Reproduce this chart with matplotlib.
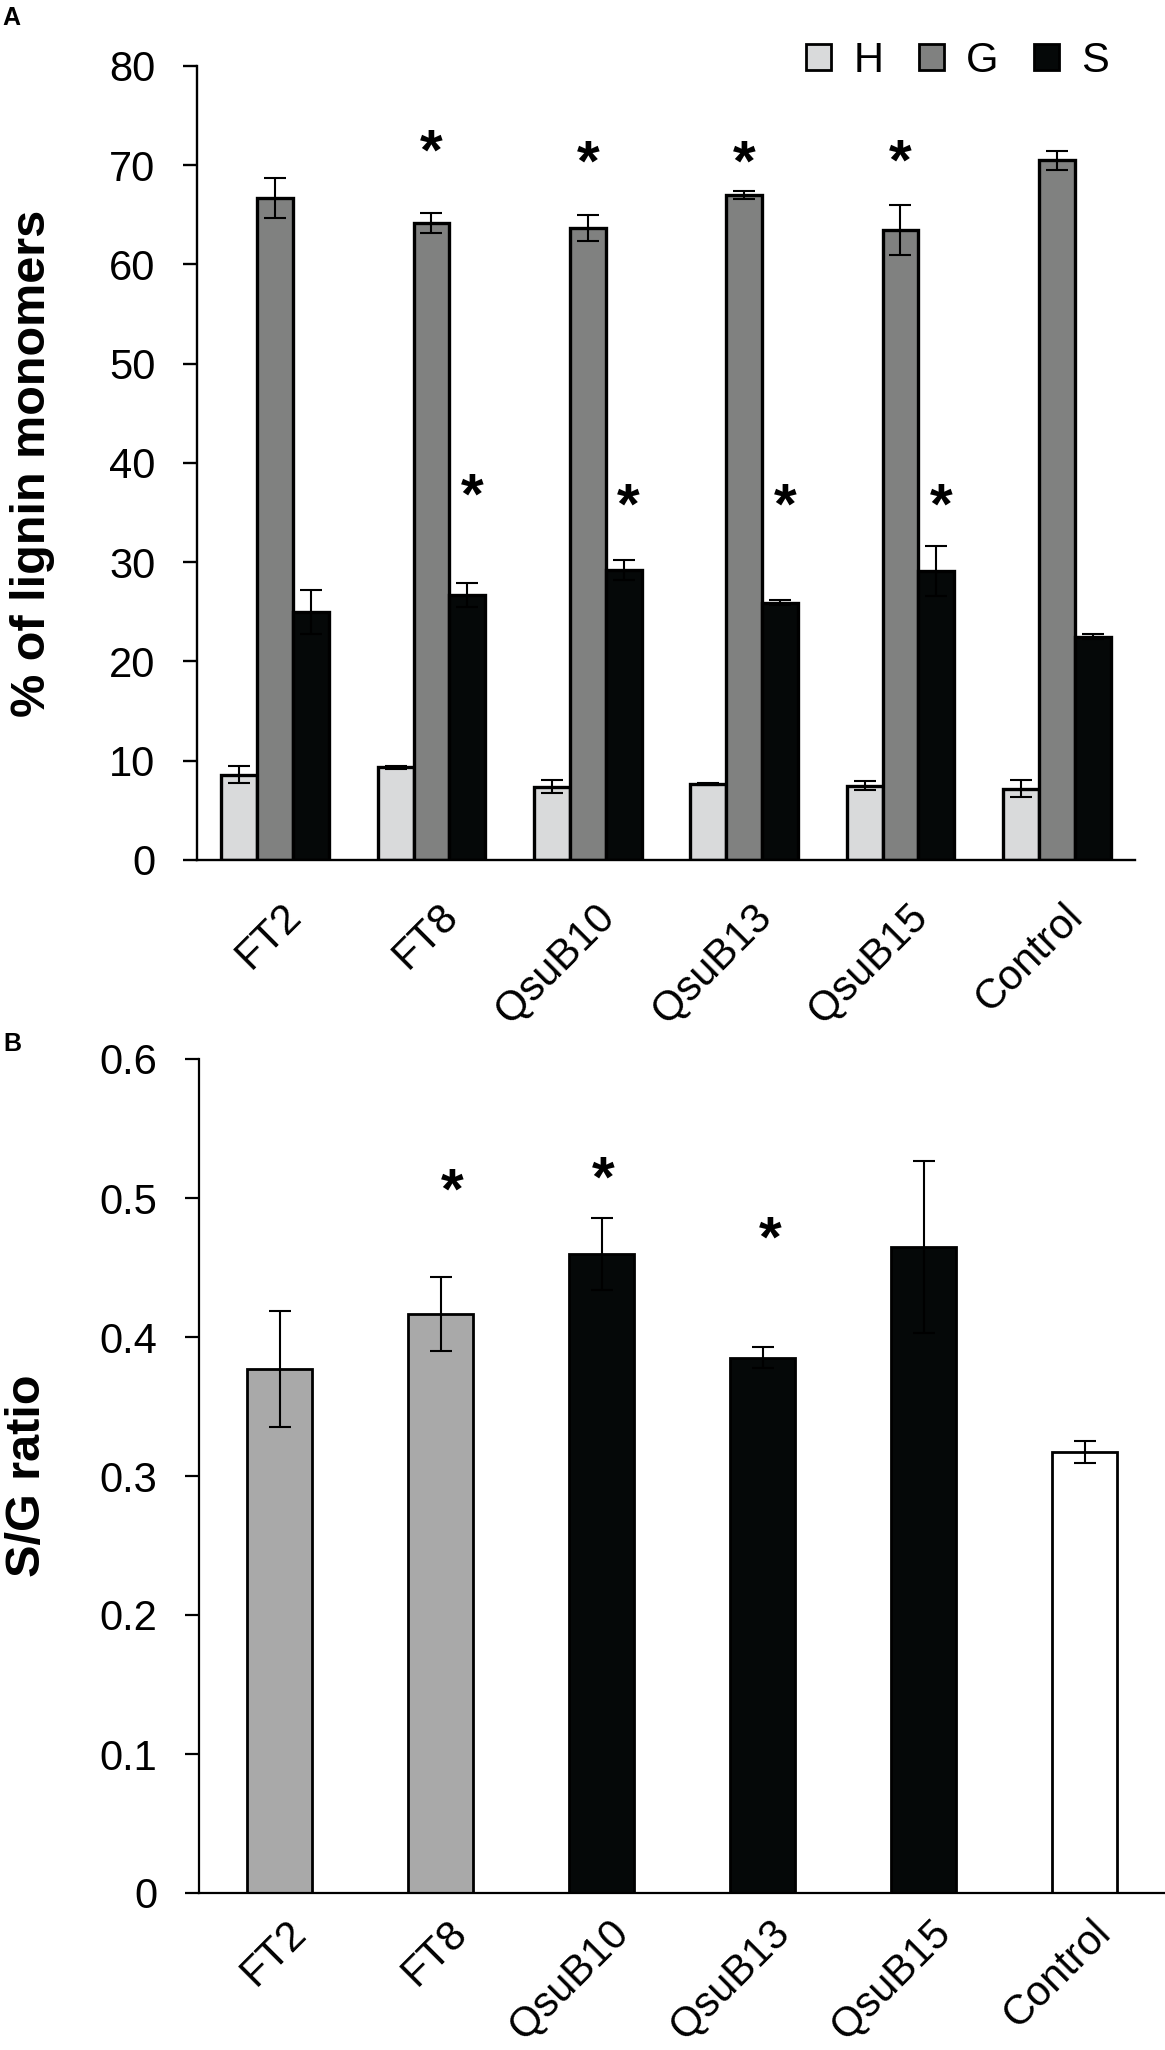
import numpy as np
import matplotlib
matplotlib.use("Agg")
import matplotlib.pyplot as plt
from matplotlib.patches import Patch
from matplotlib.transforms import ScaledTranslation

plt.rcParams['font.family'] = ['Liberation Sans', 'DejaVu Sans']

# plant lines (x categories, same in both panels)
lines = ["FT2", "FT8", "QsuB10", "QsuB13", "QsuB15", "Control"]

# Panel A: lignin monomer composition (%), mean and error
h_vals = [8.6, 9.35, 7.4, 7.65, 7.5, 7.2]
h_err = [0.85, 0.15, 0.65, 0.1, 0.45, 0.85]
g_vals = [66.7, 64.2, 63.7, 67.0, 63.5, 70.5]
g_err = [2.0, 1.0, 1.3, 0.4, 2.5, 0.95]
s_vals = [25.0, 26.7, 29.2, 25.9, 29.1, 22.5]
s_err = [2.2, 1.2, 1.0, 0.25, 2.5, 0.25]
monomers = ["H", "G", "S"]

# significance marks in panel A (line index, height)
g_star_idx = [1, 2, 3, 4]
g_star_y = [72.9, 71.8, 71.8, 71.9]
s_star_idx = [1, 2, 3, 4]
s_star_y = [38.3, 37.2, 37.2, 37.2]

# Panel B: S/G ratio
sg_vals = [0.377, 0.4166, 0.4597, 0.385, 0.4648, 0.317]
sg_err = [0.042, 0.0266, 0.026, 0.0075, 0.062, 0.008]
sg_star_idx = [1, 2, 3]
sg_star_y = [0.516, 0.525, 0.482]

# colours
mono_colors = ['#d9dadb', '#808180', '#050808']
sg_colors = ['#a9a9a9', '#a9a9a9', '#050808', '#050808', '#050808', '#ffffff']

W, H = 1165, 2050
fig = plt.figure(figsize=(W / 100, H / 100), dpi=100)

TICK_FS = 30
LABEL_FS = 35
STAR_FS = 42


def star(ax, x, y, dx=0.0):
    # y is the centre of the asterisk glyph
    ax.annotate('*', (x + dx, y), xytext=(0, -0.57 * STAR_FS), textcoords='offset points',
                ha='center', va='baseline', fontsize=STAR_FS, fontweight='bold', zorder=5)


def style_axes(ax, lw, xpad):
    ax.spines['top'].set_visible(False)
    ax.spines['right'].set_visible(False)
    ax.spines['left'].set_linewidth(lw)
    ax.spines['bottom'].set_linewidth(lw)
    ax.tick_params(axis='y', length=10, width=lw, pad=20, labelsize=TICK_FS, direction='out')
    ax.tick_params(axis='x', length=0, pad=xpad, labelsize=TICK_FS)
    ax.set_xlim(-0.5, 5.5)


def rotated_labels(ax):
    ax.set_xticks(np.arange(len(lines)))
    labs = ax.set_xticklabels(lines, rotation=45, ha='right', va='top', rotation_mode='anchor')
    shift = ScaledTranslation(4.5 / 72, 0, fig.dpi_scale_trans)
    for lab in labs:
        lab.set_transform(lab.get_transform() + shift)


# ---------------- Panel A ----------------
axA = fig.add_axes([197 / W, 1 - 860 / H, 938 / W, 794 / H])
x = np.arange(len(lines))
bw = 0.23
series = [(h_vals, h_err), (g_vals, g_err), (s_vals, s_err)]
for k, (vals, errs) in enumerate(series):
    xs = x + (k - 1) * bw
    axA.bar(xs, vals, bw, color=mono_colors[k], edgecolor='black', linewidth=2.4, zorder=2)
    axA.errorbar(xs, vals, yerr=errs, fmt='none', ecolor='black', elinewidth=1.5,
                 capsize=8, capthick=1.5, zorder=3)

for i, y in zip(g_star_idx, g_star_y):
    star(axA, x[i], y)
for i, y in zip(s_star_idx, s_star_y):
    star(axA, x[i] + bw, y, 0.03)

style_axes(axA, 1.7, 26)
axA.set_ylim(0, 80)
axA.set_yticks(np.arange(0, 81, 10))
rotated_labels(axA)
axA.set_ylabel('% of lignin monomers', fontsize=LABEL_FS, fontweight='bold')
axA.yaxis.set_label_coords(-0.151, 0.5)

handles = [Patch(facecolor=c, edgecolor='black', linewidth=2) for c in mono_colors]
axA.legend(handles, monomers, ncol=3, frameon=False, loc='upper right',
           bbox_to_anchor=(0.972, 1.032), fontsize=TICK_FS, handlelength=0.6,
           handleheight=0.6, handletextpad=0.53, columnspacing=0.85,
           borderaxespad=0, borderpad=0)

# ---------------- Panel B ----------------
axB = fig.add_axes([199 / W, 1 - 1893 / H, 966 / W, 834 / H])
axB.bar(x, sg_vals, 0.4, color=sg_colors, edgecolor='black', linewidth=2.0, zorder=2)
axB.errorbar(x, sg_vals, yerr=sg_err, fmt='none', ecolor='black', elinewidth=1.5,
             capsize=8, capthick=1.5, zorder=3)
for i, y, dx in zip(sg_star_idx, sg_star_y, [0.07, 0.01, 0.05]):
    star(axB, x[i], y, dx)

style_axes(axB, 1.6, 14)
axB.set_ylim(0, 0.6)
axB.set_yticks(np.arange(0, 0.61, 0.1))
axB.set_yticklabels(['0', '0.1', '0.2', '0.3', '0.4', '0.5', '0.6'])
rotated_labels(axB)
axB.set_ylabel('S/G ratio', fontsize=LABEL_FS, fontweight='bold')
axB.yaxis.set_label_coords(-0.154, 0.5)

# panel letters
fig.text(2 / W, 1 - 6 / H, 'A', fontsize=18, fontweight='bold', va='top', ha='left')
fig.text(3 / W, 1 - 1032 / H, 'B', fontsize=18, fontweight='bold', va='top', ha='left')

fig.savefig('out.png', dpi=100)
